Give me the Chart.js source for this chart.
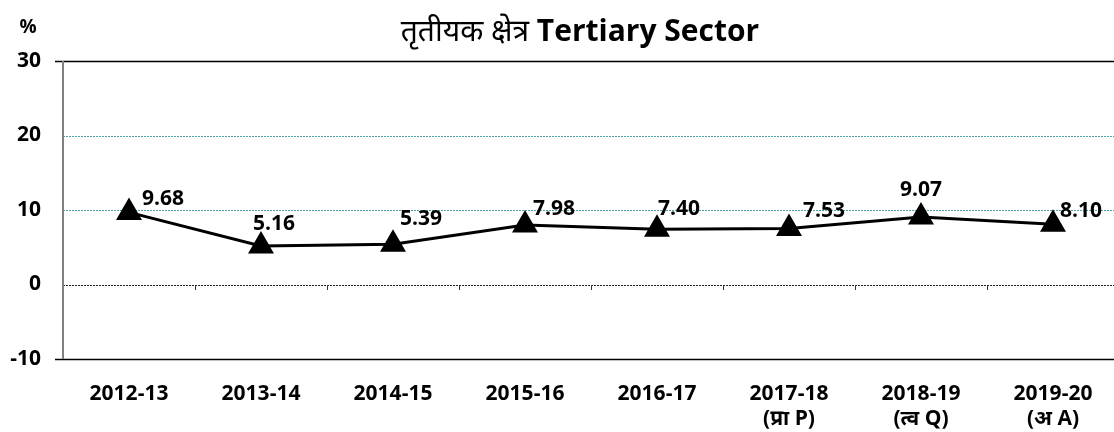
<!DOCTYPE html>
<html>
<head>
<meta charset="utf-8">
<script src="https://cdn.jsdelivr.net/npm/chart.js@4.4.1/dist/chart.umd.min.js"></script>
<style>
  html, body { margin: 0; padding: 0; background: #fff; overflow: hidden; }
</style>
</head>
<body>
<canvas id="myChart1" width="1134" height="432"></canvas>
<script>
// तृतीयक क्षेत्र - Tertiary Sector growth (%)
const years = [
    "2012-13", "2013-14", "2014-15", "2015-16", "2016-17",
    ["2017-18", "(प्रा P)"], ["2018-19", "(त्व Q)"], ["2019-20", "(अ A)"]
];
const growth = [9.68, 5.16, 5.39, 7.98, 7.40, 7.53, 9.07, 8.10];
const yTicks = [-10, 0, 10, 20, 30];

// label offsets from each point (px)
const labelOffset = [[13, -13], [-8, -22], [7, -25], [8, -16], [1, -20], [14, -17], [-21, -27], [7, -13]];

const FONT = "'Open Sans', 'Noto Sans', sans-serif";

const decor = {
    id: "decor",
    beforeDatasetsDraw(chart) {
        const c = chart.ctx;
        const x = chart.scales.x, y = chart.scales.y;
        const a = chart.chartArea;
        c.save();
        // horizontal lines
        yTicks.forEach(v => {
            const py = Math.round(y.getPixelForValue(v)) + 0.5;
            c.beginPath();
            if (v === 30 || v === -10) {
                c.setLineDash([]);
                c.strokeStyle = "#000";
                c.lineWidth = 1.5;
                c.moveTo(a.left - 8, py);
            } else if (v === 0) {
                c.setLineDash([2, 1]);
                c.strokeStyle = "#222";
                c.lineWidth = 1;
                c.moveTo(a.left, py);
            } else {
                c.setLineDash([2, 1]);
                c.strokeStyle = "#4fa3a8";
                c.lineWidth = 1;
                c.moveTo(a.left, py);
            }
            c.lineTo(chart.width, py);
            c.stroke();
        });
        c.setLineDash([]);
        // small ticks between categories on the zero line
        const y0 = Math.round(y.getPixelForValue(0));
        c.strokeStyle = "#333";
        c.lineWidth = 1;
        for (let i = 1; i < years.length; i++) {
            const px = Math.round((x.getPixelForValue(i - 1) + x.getPixelForValue(i)) / 2) + 0.5;
            c.beginPath();
            c.moveTo(px, y0);
            c.lineTo(px, y0 + 5);
            c.stroke();
        }
        // left axis
        c.strokeStyle = "#808080";
        c.lineWidth = 2;
        c.beginPath();
        c.moveTo(a.left, y.getPixelForValue(30));
        c.lineTo(a.left, y.getPixelForValue(-10));
        c.stroke();
        c.restore();
    },
    afterDatasetsDraw(chart) {
        const c = chart.ctx;
        const meta = chart.getDatasetMeta(0);
        c.save();
        c.fillStyle = "#000";
        c.font = "bold 21px " + FONT;
        c.textAlign = "left";
        c.textBaseline = "middle";
        meta.data.forEach((pt, i) => {
            c.fillText(growth[i].toFixed(2), pt.x + labelOffset[i][0], pt.y + labelOffset[i][1]);
        });
        // title
        c.textBaseline = "middle";
        const hindi = "तृतीयक क्षेत्र ";
        const eng = "Tertiary Sector";
        c.font = "bold 30px " + FONT;
        const wE = c.measureText(eng).width;
        c.font = "30px 'Noto Sans', " + FONT;
        const wH = c.measureText(hindi).width;
        const startX = 580 - (wH + wE) / 2;
        c.fillText(hindi, startX, 32);
        c.font = "bold 30px " + FONT;
        c.fillText(eng, startX + wH, 32);
        // % unit
        c.font = "bold 19px " + FONT;
        c.textAlign = "center";
        c.fillText("%", 28, 28);
        c.restore();
    }
};

window.onload = function(){
    const ctx = document.getElementById("myChart1").getContext("2d");
    new Chart(ctx, {
        type: "line",
        data: {
            labels: years,
            datasets: [{
                data: growth,
                borderColor: "#000",
                backgroundColor: "#000",
                borderWidth: 3,
                pointStyle: "triangle",
                pointRadius: 12,
                pointHoverRadius: 12,
                tension: 0
            }]
        },
        options: {
            responsive: false,
            animation: false,
            layout: { padding: { top: 61, right: 0, left: 0, bottom: 0 } },
            plugins: {
                legend: { display: false },
                title: { display: false },
                tooltip: { enabled: false }
            },
            scales: {
                x: {
                    offset: true,
                    grid: { display: false },
                    border: { display: false },
                    ticks: {
                        color: "#000",
                        font: { family: FONT, size: 21, weight: "bold", lineHeight: 1.2 },
                        padding: 14,
                        maxRotation: 0,
                        autoSkip: false
                    },
                    afterFit(s) { s.height = 73; }
                },
                y: {
                    min: -10,
                    max: 30,
                    grid: { display: false },
                    border: { display: false },
                    ticks: {
                        stepSize: 10,
                        color: "#000",
                        font: { family: FONT, size: 21, weight: "bold" },
                        padding: 14
                    },
                    afterFit(s) { s.width = 63; }
                }
            }
        },
        plugins: [decor]
    });
};
</script>
</body>
</html>
